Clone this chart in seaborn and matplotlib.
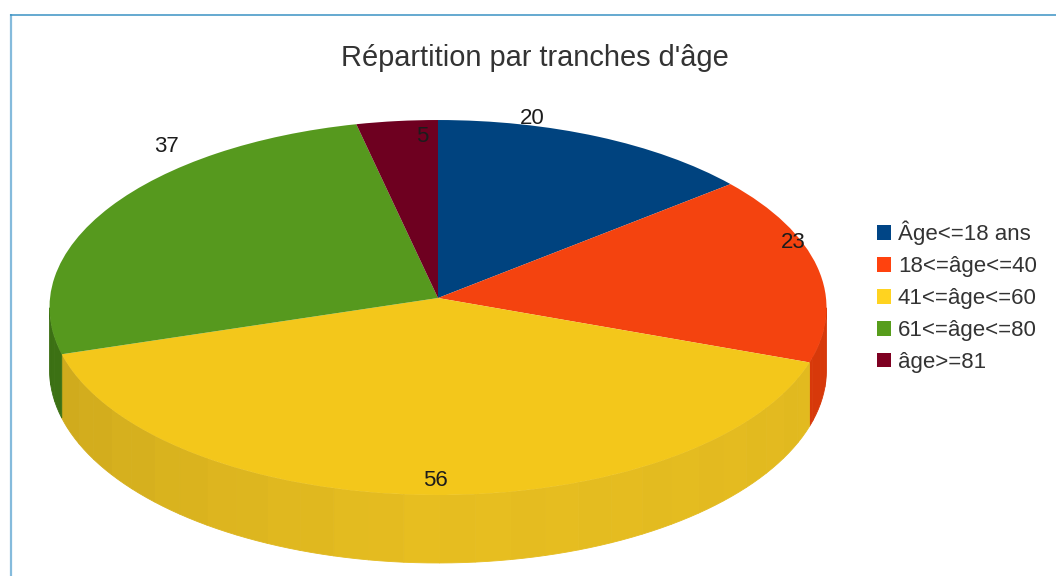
import numpy as np
import matplotlib
matplotlib.use('Agg')
import matplotlib.pyplot as plt
from matplotlib.colors import to_rgb
from matplotlib.lines import Line2D
from matplotlib.patches import Patch
from matplotlib.transforms import Transform
import seaborn as sns

title = "Répartition par tranches d'âge"
categories = ['Âge<=18 ans', '18<=âge<=40', '41<=âge<=60', '61<=âge<=80', 'âge>=81']
values = [20, 23, 56, 37, 5]

top_colors = ['#00437f', '#f4430f', '#f3c71b', '#56991e', '#6e0020']
side_colors = ['#00376a', '#dc3a0a', '#e6bd20', '#437f16', '#5a001a']
legend_colors = ['#004586', '#ff420e', '#ffd320', '#579d1c', '#7e0021']

# pixel layout of the original picture
W, H = 1056, 576
CX, CY = 438, 298
RX = 388.0
RY = 187.0
TILT = 0.0507
label_px = [(532, 119), (793, 243), (435, 481), (166, 146), (422, 137)]

sns.set_theme(style='white', rc={'font.family': 'Liberation Sans'})
palette = sns.color_palette(top_colors)


def project(x, y):
    return x / (1 + TILT * y), y / (1 + TILT * y)


class Tilt(Transform):
    input_dims = 2
    output_dims = 2

    def transform_non_affine(self, xy):
        xy = np.asarray(xy, dtype=float)
        return np.column_stack(project(xy[:, 0], xy[:, 1]))


def draw_side(ax):
    # only the front of the rim can be seen, it starts just below the widest point
    edges = np.cumsum([0] + values) / sum(values) * 360
    for i in range(len(values)):
        start = max(edges[i], 93)
        stop = min(edges[i + 1], 267)
        if start >= stop:
            continue
        steps = np.append(np.arange(start, stop, 5.0), stop)
        for a, b in zip(steps[:-1], steps[1:]):
            t = np.radians(np.linspace(a, b, 4))
            x, y = project(np.sin(t), np.cos(t))
            low = y - (62 - 6 * np.cos(t)) / RY
            mid = (a + b) / 2
            shade = np.interp(mid, [90, 180, 270], [0.97, 1.0, 0.87]) + 0.006 * (int(a / 5) % 2)
            col = np.clip(np.array(to_rgb(side_colors[i])) * shade, 0, 1)
            ax.fill(np.r_[x, x[::-1]], np.r_[y, low[::-1]], color=col, lw=0.6, zorder=1, clip_on=False)


fig = plt.figure(figsize=(W / 100, H / 100), dpi=100, facecolor='white')
ax = fig.add_axes([0, 0, 1, 1])
wedges, _ = ax.pie(values, colors=palette, startangle=90, counterclock=False, radius=1,
                   wedgeprops={'linewidth': 0, 'zorder': 2})
ax.set_aspect('auto')
for w in wedges:
    w.set_transform(Tilt() + ax.transData)
draw_side(ax)
ax.set_xlim(-CX / RX, (W - CX) / RX)
ax.set_ylim((CY - H) / RY, CY / RY)
ax.axis('off')

for v, (px, py) in zip(values, label_px):
    fig.text(px / W, 1 - py / H, str(v), fontsize=16, color='#1c1c1c', ha='center', va='center', zorder=5)

fig.text(534.5 / W, 1 - 58 / H, title, fontsize=20.9, color='#333333', ha='center', va='center')

handles = [Patch(facecolor=c, edgecolor='none') for c in legend_colors]
fig.legend(handles, categories, loc='center left', bbox_to_anchor=(877 / W, 1 - 297 / H), frameon=False,
           fontsize=16, labelcolor='#333333', handlelength=0.62, handleheight=0.62, handletextpad=0.32,
           labelspacing=0.49, borderpad=0, borderaxespad=0)

# blue page frame, left and top only
fig.add_artist(Line2D([11 / W, 11 / W], [0, 1 - 14 / H], color='#85bbdc', lw=1.6, solid_capstyle='butt'))
fig.add_artist(Line2D([10 / W, 1], [1 - 14.5 / H, 1 - 14.5 / H], color='#3a92c4', lw=1.1, solid_capstyle='butt'))

fig.savefig('out.png', dpi=100)
